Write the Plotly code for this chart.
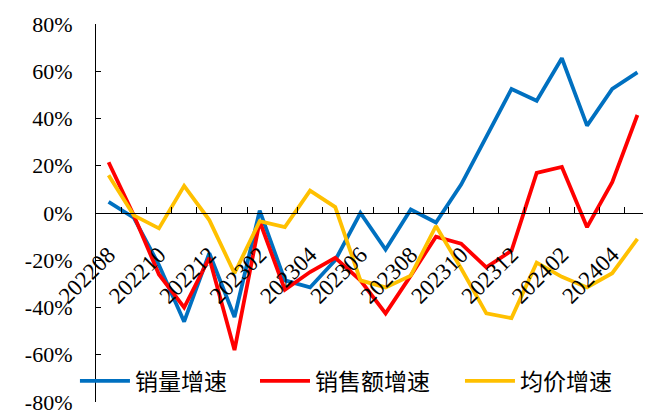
import plotly.graph_objects as go

months = ["202208", "202209", "202210", "202211", "202212",
          "202301", "202302", "202303", "202304", "202305", "202306",
          "202307", "202308", "202309", "202310", "202311", "202312",
          "202401", "202402", "202403", "202404", "202405"]

sales_volume_growth = [4.7, -2, -22, -46, -17, -44, 1, -28.5, -31.5, -20, 0,
                       -15.5, 1.5, -4, 12, 32, 52.5, 47.5, 65.5, 37, 52.5, 59.5]
sales_amount_growth = [21.5, -1, -26, -40, -19, -58, -3.5, -32.5, -25, -19, -28.5,
                       -42.5, -26.5, -10, -13, -23, -16, 17, 19.5, -6, 13, 41.5]
avg_price_growth = [16, -1, -6.5, 11.5, -3, -25.5, -3.5, -6, 9.5, 2.5, -28.5,
                    -31.5, -26.5, -5.5, -23.5, -42.5, -44.5, -21, -27, -31.5, -25.5, -11]

series_names = ["销量增速", "销售额增速", "均价增速"]
series_colors = ["#0070C0", "#FF0000", "#FFC000"]

x_tick_text = [m if i % 2 == 0 else "" for i, m in enumerate(months)]
y_tick_vals = [-80, -60, -40, -20, 0, 20, 40, 60, 80]
y_tick_text = ["-80%", "-60%", "-40%", "-20%", "0%", "20%", "40%", "60%", "80%"]

legend_ids = ["legend", "legend2", "legend3"]
legend_x = [-0.038, 0.287, 0.657]

fig = go.Figure()
for name, vals, col, lg in zip(series_names,
                               [sales_volume_growth, sales_amount_growth, avg_price_growth],
                               series_colors, legend_ids):
    fig.add_trace(go.Scatter(x=months, y=vals, name=name, mode="lines",
                             line=dict(color=col, width=3.8), legend=lg))

legend_style = dict(orientation="h", xanchor="left", y=0.056, yanchor="middle",
                    font=dict(family="Noto Sans CJK SC", size=23, color="black"),
                    bgcolor="rgba(255,255,255,0)", itemwidth=50)

fig.update_layout(
    width=643, height=402,
    margin=dict(l=88, r=1, t=16, b=8),
    paper_bgcolor="white", plot_bgcolor="white",
    showlegend=True,
    legend=dict(x=legend_x[0], **legend_style),
    legend2=dict(x=legend_x[1], **legend_style),
    legend3=dict(x=legend_x[2], **legend_style),
    font=dict(family="Liberation Serif", color="black"),
)

fig.update_xaxes(
    type="category", range=[-0.5, len(months) - 0.5],
    tickmode="array", tickvals=months, ticktext=x_tick_text,
    tickson="boundaries", ticks="inside", ticklen=6, tickcolor="black",
    tickangle=-45, tickfont=dict(family="Liberation Serif", size=23, color="black"),
    ticklabelstandoff=18, ticklabeloverflow="allow",
    showline=True, linecolor="black", linewidth=1.2,
    showgrid=False, zeroline=False,
    anchor="free", position=0.5, automargin=False,
)
fig.update_yaxes(
    range=[-80, 80], tickmode="array", tickvals=y_tick_vals, ticktext=y_tick_text,
    ticks="inside", ticklen=5, tickcolor="black",
    tickfont=dict(family="Liberation Serif", size=22, color="black"),
    ticklabelstandoff=18, ticklabeloverflow="allow",
    showline=True, linecolor="black", linewidth=1.2,
    showgrid=False, zeroline=False, automargin=False,
)

fig.write_html("out.html")
